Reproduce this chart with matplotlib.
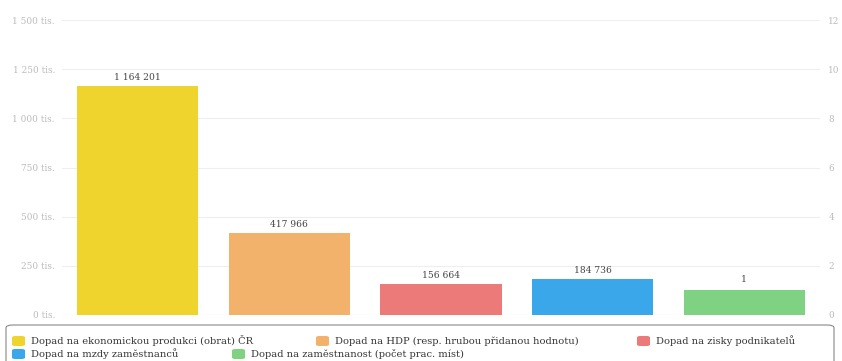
import matplotlib.pyplot as plt
from matplotlib.patches import FancyBboxPatch

labels = ["Dopad na ekonomickou produkci (obrat) ČR",
          "Dopad na HDP (resp. hrubou přidanou hodnotu)",
          "Dopad na zisky podnikatelů",
          "Dopad na mzdy zaměstnanců",
          "Dopad na zaměstnanost (počet prac. míst)"]
values_tis = [1164201, 417966, 156664, 184736]   # left axis (tis.)
value_jobs = [1]                                 # right axis
colors = ["#f0d42e", "#f2b26c", "#ec7a78", "#3aa7ea", "#80d283"]
left_ticks = [0, 250, 500, 750, 1000, 1250, 1500]
right_ticks = [0, 2, 4, 6, 8, 10, 12]

plt.rcParams['font.family'] = ['DejaVu Serif']
fig = plt.figure(figsize=(8.42, 3.61), dpi=100)
ax = fig.add_axes([62/842, 46/361, (820-62)/842, 295/361])
ax2 = ax.twinx()

x = list(range(5))
ax.bar(x[:4], [v/1000 for v in values_tis], width=0.8, color=colors[:4], zorder=3)
ax2.bar(x[4:], value_jobs, width=0.8, color=colors[4], zorder=3)

for i, v in enumerate(values_tis):
    ax.text(i, v/1000 + 20, f"{v:,}".replace(",", " "), ha="center", va="bottom",
            fontsize=6.6, color="#444444")
ax2.text(4, value_jobs[0] + 0.25, str(value_jobs[0]), ha="center", va="bottom",
         fontsize=6.6, color="#444444")

ax.set_xlim(-0.5, 4.5)
ax.set_ylim(0, 1500)
ax2.set_ylim(0, 12)
ax.set_yticks(left_ticks)
ax.set_yticklabels([f"{t:,} tis.".replace(",", " ") for t in left_ticks])
ax2.set_yticks(right_ticks)
ax.set_xticks([])
ax.grid(axis="y", color="#eeeeee", linewidth=0.8, zorder=0)
for a in (ax, ax2):
    for s in a.spines.values():
        s.set_visible(False)
    a.tick_params(length=0, labelsize=6.4, labelcolor="#bbbbbb")
ax.tick_params(axis="y", pad=5)
ax2.tick_params(axis="y", pad=6)
ax.axhline(0, color="#dddddd", linewidth=0.8, zorder=2)

# legend drawn by hand to keep the flowing layout
box = FancyBboxPatch((6/842, -0.05), 828/842, (361-325)/361 + 0.05,
                     boxstyle="round,pad=0,rounding_size=0.008",
                     transform=fig.transFigure, facecolor="none",
                     edgecolor="#888888", linewidth=0.8)
fig.patches.append(box)
leg_pos = [(12, 341), (316, 341), (637, 341), (12, 354), (232, 354)]
for (px, py), lab, c in zip(leg_pos, labels, colors):
    fig.patches.append(FancyBboxPatch((px/842, (361-py-5)/361), 13/842, 10/361,
                                      boxstyle="round,pad=0,rounding_size=0.004",
                                      transform=fig.transFigure, facecolor=c,
                                      edgecolor="none"))
    fig.text((px+19)/842, (361-py)/361, lab, fontsize=7.1, color="#333333",
             va="center", ha="left")

fig.savefig("out.png", dpi=100)
